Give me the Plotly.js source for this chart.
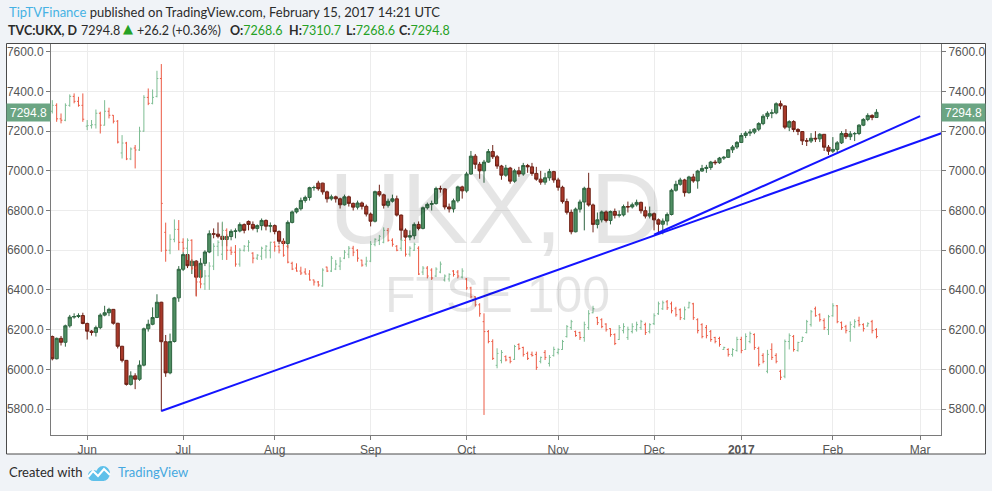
<!DOCTYPE html>
<html>
<head>
<meta charset="utf-8">
<script src="https://cdn.plot.ly/plotly-3.0.1.min.js"></script>
<style>
html,body{margin:0;padding:0;background:#f0f3f7;}
#chart{width:992px;height:491px;}
</style>
</head>
<body>
<div id="chart"></div>
<script>
// ---------------- DATA ----------------
// Trading calendar (UK): first bar and market holidays inside the window
const firstDate = '2016-05-19';
const holidays = ['2016-05-30', '2016-08-29', '2016-12-26', '2016-12-27', '2017-01-02'];

// TVC:UKX daily candles
const ukxOpen = [
  6165,6053,6156,6136,6219,6263,6266,6271,6231,6192,
  6186,6210,6273,6285,6302,6232,6116,6045,5924,5967,
  5950,6021,6204,6227,6261,6338,6139,5982,6140,6360,
  6504,6578,6522,6545,6464,6534,6591,6683,6681,6670,
  6654,6669,6695,6697,6729,6745,6730,6710,6724,6750,
  6721,6724,6694,6645,6634,6740,6793,6809,6851,6866,
  6915,6938,6938,6894,6859,6869,6859,6829,6869,6836,
  6817,6838,6821,6782,6746,6895,6879,6826,6847,6859,
  6777,6701,6666,6673,6730,6710,6814,6831,6835,6911,
  6909,6818,6808,6849,6919,6899,6984,7074,7033,7000,
  7044,7097,7071,7024,6978,7014,6948,7000,6984,7027,
  7020,6987,6958,6943,6965,6996,6954,6917,6845,6791,
  6693,6807,6843,6912,6828,6730,6753,6793,6750,6795,
  6776,6778,6820,6818,6829,6841,6799,6772,6784,6753,
  6731,6747,6780,6902,6932,6954,6890,6969,6949,6999,
  7012,7017,7044,7041,7064,7068,7106,7120,7143,7178,
  7190,7195,7210,7238,7275,7290,7292,7338,7327,7220,
  7248,7208,7198,7151,7150,7164,7161,7184,7119,7099,
  7108,7141,7188,7172,7186,7188,7230,7259,7279,7268.6];
const ukxHigh = [
  6170,6160,6168,6225,6274,6282,6282,6285,6235,6198,
  6220,6282,6320,6310,6304,6234,6118,6047,5990,5980,
  6045,6210,6250,6312,6378,6340,6173,6180,6365,6520,
  6590,6590,6555,6550,6560,6600,6700,6710,6740,6740,
  6680,6705,6710,6740,6735,6750,6745,6730,6760,6755,
  6740,6730,6700,6660,6750,6800,6815,6865,6875,6920,
  6925,6950,6940,6900,6880,6875,6865,6880,6875,6840,
  6850,6845,6830,6790,6900,6930,6885,6860,6880,6875,
  6780,6710,6700,6740,6745,6820,6840,6850,6920,6925,
  6912,6835,6860,6925,6925,6995,7100,7085,7045,7055,
  7110,7130,7080,7030,7030,7020,7010,7020,7040,7035,
  7040,7020,7000,6990,7010,7000,6965,6925,6860,6805,
  6815,6855,6920,6990,6835,6790,6800,6800,6800,6810,
  6800,6830,6845,6840,6855,6845,6820,6820,6790,6760,
  6760,6790,6910,6950,6965,6960,6975,6985,7005,7030,
  7030,7050,7055,7070,7075,7110,7130,7150,7190,7200,
  7210,7215,7245,7285,7300,7310,7345,7354,7330,7255,
  7255,7215,7200,7165,7190,7200,7190,7185,7130,7170,
  7150,7200,7210,7200,7195,7235,7265,7290,7285,7310.7];
const ukxLow = [
  6045,6050,6120,6114,6210,6255,6258,6227,6150,6170,
  6165,6202,6267,6268,6225,6105,6035,5918,5918,5900,
  5942,6015,6190,6222,6258,5788,5962,5975,6135,6340,
  6495,6510,6480,6370,6455,6520,6585,6660,6660,6620,
  6620,6650,6660,6690,6685,6700,6700,6690,6700,6700,
  6690,6680,6630,6620,6610,6735,6785,6800,6840,6850,
  6900,6900,6880,6840,6850,6840,6810,6825,6820,6800,
  6805,6805,6770,6720,6740,6870,6810,6815,6840,6770,
  6650,6650,6650,6655,6700,6705,6805,6800,6830,6890,
  6805,6790,6790,6840,6860,6890,6980,7010,6960,6940,
  7040,7060,7010,6955,6970,6935,6940,6970,6975,6990,
  6975,6950,6930,6930,6950,6940,6900,6835,6780,6680,
  6690,6790,6700,6820,6690,6710,6740,6740,6730,6760,
  6765,6770,6790,6810,6820,6785,6760,6760,6700,6680,
  6680,6725,6775,6895,6925,6870,6885,6940,6910,6995,
  6990,7005,7030,7035,7055,7065,7090,7110,7140,7165,
  7175,7185,7200,7230,7260,7265,7285,7310,7210,7200,
  7195,7180,7130,7125,7140,7145,7145,7100,7080,7090,
  7095,7135,7160,7155,7150,7180,7225,7250,7255,7268.6];
const ukxClose = [
  6053,6156,6136,6219,6263,6266,6271,6231,6192,6186,
  6210,6273,6285,6302,6232,6116,6045,5924,5967,5950,
  6021,6204,6227,6261,6338,6139,5982,6140,6360,6504,
  6578,6522,6545,6464,6534,6591,6683,6681,6670,6654,
  6669,6695,6697,6729,6700,6730,6710,6724,6750,6721,
  6724,6694,6645,6634,6740,6793,6809,6851,6866,6915,
  6916,6910,6894,6859,6869,6859,6829,6869,6836,6817,
  6838,6821,6782,6746,6895,6879,6826,6847,6859,6777,
  6701,6666,6673,6730,6710,6814,6831,6835,6911,6909,
  6818,6808,6849,6919,6899,6984,7074,7033,7000,7044,
  7097,7071,7024,6978,7014,6948,7000,6984,7027,7020,
  6987,6958,6943,6965,6996,6954,6917,6845,6791,6693,
  6807,6843,6912,6828,6730,6753,6793,6750,6795,6776,
  6778,6820,6818,6829,6841,6799,6772,6784,6753,6731,
  6747,6780,6902,6932,6954,6890,6969,6949,6999,7012,
  7017,7044,7041,7064,7068,7106,7120,7143,7178,7190,
  7195,7210,7238,7275,7290,7292,7338,7327,7220,7248,
  7208,7198,7151,7150,7164,7161,7184,7119,7099,7108,
  7141,7188,7172,7186,7188,7230,7259,7279,7269,7294.8];

// Overlaid comparison bars (read in the chart's own price units)
const cmpOpen = [
  7300,7330,7262,7255,7330,7375,7350,7330,7225,7228,
  7232,7290,7230,7300,7280,7250,7090,7140,7060,7115,
  7105,7200,7370,7340,7375,7465,6690,6600,6655,6705,
  6640,6610,6650,6510,6440,6430,6470,6520,6620,6580,
  6700,6600,6590,6530,6600,6620,6585,6560,6570,6600,
  6600,6640,6620,6640,6620,6534,6510,6495,6490,6480,
  6450,6440,6420,6515,6495,6505,6520,6560,6580,6610,
  6600,6550,6530,6545,6630,6650,6640,6700,6650,6620,
  6610,6650,6580,6600,6610,6490,6510,6500,6470,6490,
  6450,6455,6495,6490,6465,6455,6410,6365,6325,6240,
  6190,6140,6020,6045,6064,6060,6050,6125,6110,6080,
  6075,6075,6040,6085,6030,6070,6085,6100,6165,6210,
  6190,6185,6160,6210,6285,6260,6250,6228,6205,6175,
  6150,6195,6160,6190,6200,6210,6225,6190,6230,6280,
  6305,6340,6330,6305,6300,6255,6310,6330,6250,6225,
  6210,6190,6160,6155,6100,6100,6075,6095,6150,6100,
  6140,6175,6105,6070,5990,6100,6070,5990,5965,6140,
  6165,6095,6140,6185,6225,6305,6275,6245,6200,6270,
  6320,6235,6215,6190,6215,6245,6225,6218,6240,6200];
const cmpHigh = [
  7356,7340,7289,7340,7385,7390,7373,7390,7256,7256,
  7309,7298,7356,7318,7281,7256,7180,7146,7118,7130,
  7222,7381,7415,7410,7504,7538,6739,6680,6755,6752,
  6660,6660,6655,6520,6500,6500,6540,6635,6650,6744,
  6710,6618,6626,6610,6626,6651,6590,6580,6618,6626,
  6643,6645,6625,6651,6626,6542,6534,6517,6509,6500,
  6452,6445,6509,6517,6571,6551,6565,6601,6621,6622,
  6605,6552,6567,6646,6660,6677,6715,6712,6660,6626,
  6660,6660,6620,6638,6620,6520,6520,6509,6514,6543,
  6478,6484,6500,6500,6509,6460,6416,6368,6333,6282,
  6198,6151,6106,6097,6070,6064,6123,6131,6114,6089,
  6089,6089,6064,6097,6072,6114,6106,6148,6223,6249,
  6195,6190,6240,6298,6320,6265,6257,6232,6207,6181,
  6223,6232,6215,6232,6240,6249,6235,6232,6282,6341,
  6346,6349,6341,6315,6307,6316,6341,6335,6257,6232,
  6223,6198,6164,6164,6114,6106,6106,6164,6164,6181,
  6190,6181,6114,6081,6098,6131,6081,5997,6150,6181,
  6173,6139,6165,6249,6299,6316,6282,6257,6274,6333,
  6324,6241,6224,6241,6252,6265,6232,6237,6249,6207];
const cmpLow = [
  7289,7247,7239,7250,7323,7340,7323,7247,7205,7213,
  7213,7188,7228,7264,7239,7138,7062,7054,7054,7012,
  7100,7197,7331,7335,7370,6592,6542,6580,6640,6600,
  6590,6551,6500,6366,6408,6400,6400,6500,6570,6551,
  6551,6576,6517,6517,6593,6593,6534,6551,6551,6559,
  6559,6593,6584,6567,6534,6500,6492,6475,6478,6447,
  6422,6416,6416,6490,6490,6500,6500,6555,6560,6570,
  6542,6517,6517,6540,6620,6626,6635,6643,6618,6595,
  6596,6568,6568,6596,6475,6475,6458,6450,6465,6484,
  6442,6442,6467,6458,6458,6400,6358,6316,6265,5770,
  6131,6047,6005,6030,6040,6030,6047,6097,6064,6047,
  6064,5997,6030,6047,6014,6064,6075,6098,6160,6198,
  6164,6148,6139,6198,6282,6223,6207,6190,6164,6122,
  6148,6181,6148,6181,6190,6198,6173,6181,6223,6274,
  6299,6299,6282,6265,6248,6249,6307,6249,6181,6156,
  6156,6139,6131,6114,6098,6064,6064,6089,6081,6098,
  6131,6098,6014,6030,5980,6047,6030,5946,5955,6100,
  6089,6089,6139,6181,6215,6265,6240,6198,6173,6265,
  6232,6198,6181,6139,6207,6215,6190,6215,6181,6156];
const cmpClose = [
  7330,7262,7255,7330,7375,7350,7330,7260,7228,7232,
  7290,7230,7300,7280,7250,7145,7140,7060,7110,7105,
  7200,7370,7340,7370,7465,6836,6600,6655,6705,6640,
  6610,6650,6510,6440,6430,6470,6520,6620,6640,6700,
  6600,6590,6530,6600,6620,6640,6560,6575,6610,6620,
  6640,6620,6600,6575,6540,6505,6495,6485,6480,6450,
  6440,6425,6500,6495,6560,6530,6545,6590,6610,6590,
  6560,6525,6545,6630,6655,6670,6700,6650,6630,6600,
  6650,6580,6610,6630,6480,6510,6470,6460,6505,6530,
  6470,6478,6478,6470,6495,6410,6365,6325,6280,6190,
  6140,6055,6080,6085,6047,6040,6115,6105,6075,6055,
  6070,6010,6060,6060,6060,6100,6100,6140,6215,6240,
  6170,6160,6225,6280,6305,6235,6215,6200,6175,6130,
  6210,6215,6200,6215,6225,6240,6185,6225,6270,6330,
  6335,6310,6295,6275,6260,6300,6335,6260,6195,6165,
  6170,6150,6140,6125,6110,6075,6100,6150,6095,6165,
  6180,6110,6025,6040,6075,6060,6040,5960,6140,6170,
  6100,6135,6160,6240,6290,6270,6250,6210,6265,6320,
  6240,6210,6195,6225,6240,6225,6205,6230,6195,6165];

// Trend lines drawn on the chart: [date, price] anchors
const trendLongDates = ['2016-06-24', '2017-03-08'];
const trendLongValues = [5790, 7190];
const trendShortDates = ['2016-12-01', '2017-03-01'];
const trendShortValues = [6678, 7276];

// Axis ticks
const monthTickDates = ['2016-06-01','2016-07-01','2016-08-01','2016-09-01','2016-10-03',
                        '2016-11-01','2016-12-01','2017-01-03','2017-02-01','2017-03-01'];
const monthTickLabels = ['Jun','Jul','Aug','Sep','Oct','Nov','Dec','<b>2017</b>','Feb','Mar'];
const priceTicks = [5800,6000,6200,6400,6600,6800,7000,7200,7400,7600];
const lastPrice = 7294.8;

// Header quote values
const quoteChange = '+26.2 (+0.36%)';
const quoteOHLC = [['O:', '7268.6'], ['H:', '7310.7'], ['L:', '7268.6'], ['C:', '7294.8']];

// ---------------- CALENDAR ----------------
function buildTradingDates(start, count, skip) {
  const out = [];
  const d = new Date(start + 'T00:00:00Z');
  while (out.length < count) {
    const iso = d.toISOString().slice(0, 10);
    const wd = d.getUTCDay();
    if (wd !== 0 && wd !== 6 && skip.indexOf(iso) < 0) out.push(iso);
    d.setUTCDate(d.getUTCDate() + 1);
  }
  return out;
}
const dates = buildTradingDates(firstDate, ukxClose.length, holidays);

// ---------------- LAYOUT HELPERS ----------------
const PL = 51, PR = 941, PT = 44, PB = 435;
const px = x => (x - PL) / (PR - PL);
const py = y => (PB - y) / (PB - PT);

const axisFont = {family: 'Liberation Sans, Arial, sans-serif', size: 12, color: '#555'};
const hdrFont = {family: 'Lato, Open Sans, sans-serif', size: 13, color: '#2b2b2b'};
const hdrFont2 = {family: 'Lato, Open Sans, sans-serif', size: 12.5, color: '#2b2b2b'};
const G = '#25a125';

function hdr(x, y, text, font) {
  return {xref: 'paper', yref: 'paper', x: px(x), y: py(y), xanchor: 'left', yanchor: 'middle',
          showarrow: false, text: text, font: font || hdrFont};
}

const traces = [
  {
    type: 'ohlc', x: dates, open: cmpOpen, high: cmpHigh, low: cmpLow, close: cmpClose,
    increasing: {line: {color: '#7dbd93', width: 1}},
    decreasing: {line: {color: '#ec5a44', width: 1}},
    tickwidth: 0.32, hoverinfo: 'skip', showlegend: false, xaxis: 'x', yaxis: 'y'
  },
  {
    type: 'candlestick', x: dates, open: ukxOpen, high: ukxHigh, low: ukxLow, close: ukxClose,
    increasing: {line: {color: '#2f6541', width: 1}, fillcolor: '#4f8e62'},
    decreasing: {line: {color: '#6e2217', width: 1}, fillcolor: '#a8392a'},
    whiskerwidth: 0, hoverinfo: 'skip', showlegend: false, xaxis: 'x', yaxis: 'y'
  },
  {
    type: 'scatter', mode: 'lines', x: trendLongDates, y: trendLongValues,
    line: {color: '#1414ff', width: 2}, hoverinfo: 'skip', showlegend: false, xaxis: 'x', yaxis: 'y2'
  },
  {
    type: 'scatter', mode: 'lines', x: trendShortDates, y: trendShortValues,
    line: {color: '#1414ff', width: 2}, hoverinfo: 'skip', showlegend: false, xaxis: 'x', yaxis: 'y2'
  }
];

const yCommon = {
  range: [5669, 7639], tickvals: priceTicks, tickformat: '.1f',
  showgrid: true, gridcolor: '#ececec', gridwidth: 1, zeroline: false,
  showline: true, linecolor: '#7a7a7a', linewidth: 1,
  ticks: 'outside', ticklen: 4, tickcolor: '#7a7a7a', tickfont: axisFont, fixedrange: true
};

const ohlcX = [228, 287, 344, 397];
const headerLine2 = [
  hdr(6, 30, '<b>TVC:UKX, D</b>', hdrFont2),
  hdr(79, 30, lastPrice.toFixed(1), hdrFont2),
  hdr(121, 29, '▲', {family: 'DejaVu Sans, sans-serif', size: 13, color: G}),
  hdr(135, 30, quoteChange, hdrFont2)
].concat(quoteOHLC.map((p, i) => hdr(ohlcX[i], 30, '<b>' + p[0] + '</b><span style="color:' + G + '">' + p[1] + '</span>', hdrFont2)));

const layout = {
  width: 992, height: 491,
  margin: {l: PL, r: 992 - PR, t: PT, b: 491 - PB, pad: 0},
  paper_bgcolor: '#f0f3f7', plot_bgcolor: 'rgba(0,0,0,0)',
  showlegend: false, boxgap: 0.15, boxgroupgap: 0.15,
  xaxis: {
    type: 'date', range: ['2016-05-18 16:48', '2017-03-07 19:12'],
    rangebreaks: [{bounds: ['sat', 'mon']}, {values: holidays}],
    rangeslider: {visible: false},
    tickvals: monthTickDates, ticktext: monthTickLabels, tickangle: 0,
    showgrid: true, gridcolor: '#ececec', zeroline: false,
    showline: true, linecolor: '#7a7a7a', linewidth: 1,
    ticks: 'outside', ticklen: 4, tickcolor: '#7a7a7a', tickfont: axisFont, fixedrange: true
  },
  yaxis: Object.assign({}, yCommon, {side: 'left'}),
  yaxis2: Object.assign({}, yCommon, {side: 'right', overlaying: 'y', showgrid: false}),
  shapes: [
    {type: 'rect', xref: 'paper', yref: 'paper', layer: 'below',
     x0: px(6.5), x1: px(985.5), y0: py(454), y1: py(43.5),
     fillcolor: '#ffffff', line: {color: '#4a4a4a', width: 1}},
    // TradingView logo (cloud + zigzag)
    {type: 'circle', xref: 'paper', yref: 'paper', x0: px(88), x1: px(99), y0: py(481), y1: py(470),
     fillcolor: '#5ec0ea', line: {width: 0}},
    {type: 'circle', xref: 'paper', yref: 'paper', x0: px(96), x1: px(110), y0: py(481), y1: py(466),
     fillcolor: '#5ec0ea', line: {width: 0}},
    {type: 'rect', xref: 'paper', yref: 'paper', x0: px(93), x1: px(104), y0: py(481), y1: py(474),
     fillcolor: '#5ec0ea', line: {width: 0}},
    {type: 'path', xref: 'paper', yref: 'paper',
     path: 'M' + px(88) + ',' + py(477) + ' L' + px(93) + ',' + py(471) + ' L' + px(98) + ',' + py(476) +
           ' L' + px(104) + ',' + py(469) + ' L' + px(110) + ',' + py(475),
     line: {color: '#ffffff', width: 2}}
  ],
  annotations: [
    {xref: 'paper', yref: 'paper', x: px(495), y: py(208), text: 'UKX, D', showarrow: false,
     xanchor: 'center', yanchor: 'middle',
     font: {family: 'Liberation Sans, Arial, sans-serif', size: 100, color: 'rgba(0,0,0,0.1)'}},
    {xref: 'paper', yref: 'paper', x: px(497), y: py(295), text: 'FTSE 100', showarrow: false,
     xanchor: 'center', yanchor: 'middle',
     font: {family: 'Liberation Sans, Arial, sans-serif', size: 50, color: 'rgba(0,0,0,0.1)'}},
    hdr(7, 12, '<span style="color:#46b2e4">TipTVFinance</span> published on TradingView.com, February 15, 2017 14:21 UTC'),
    hdr(7, 472, 'Created with'),
    hdr(116, 472, 'TradingView', {family: hdrFont.family, size: 13, color: '#45a8e0'}),
    {xref: 'paper', yref: 'y', x: 0, y: lastPrice, xanchor: 'right', yanchor: 'middle', showarrow: false,
     text: lastPrice.toFixed(1), bgcolor: '#6ba583', borderpad: 2, width: 39, height: 13,
     font: {family: 'Liberation Sans, Arial, sans-serif', size: 12, color: '#ffffff'}},
    {xref: 'paper', yref: 'y', x: 1, y: lastPrice, xanchor: 'left', yanchor: 'middle', showarrow: false,
     text: lastPrice.toFixed(1), bgcolor: '#6ba583', borderpad: 2, width: 39, height: 13,
     font: {family: 'Liberation Sans, Arial, sans-serif', size: 12, color: '#ffffff'}}
  ].concat(headerLine2)
};

Plotly.newPlot('chart', traces, layout, {staticPlot: true, displayModeBar: false});
</script>
</body>
</html>
